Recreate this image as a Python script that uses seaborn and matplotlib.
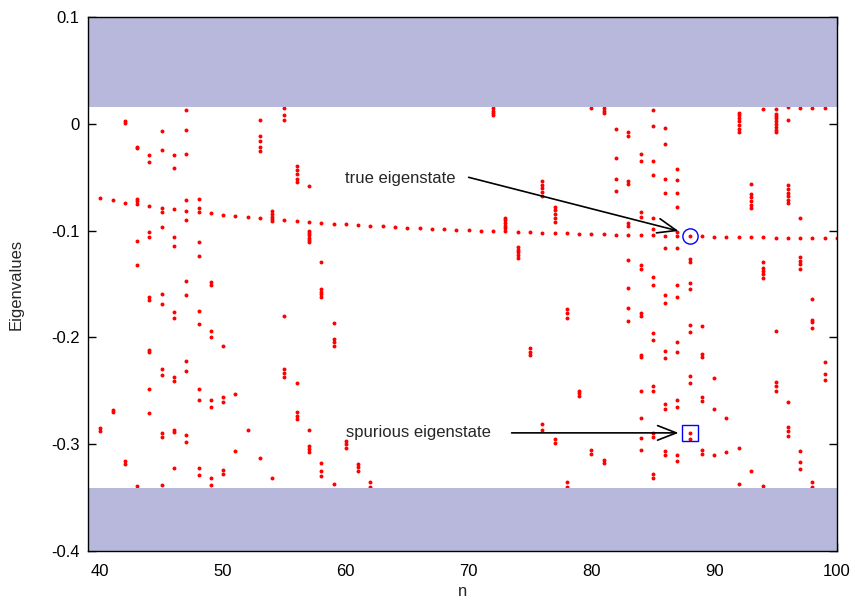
import matplotlib
matplotlib.use('Agg')
import matplotlib.pyplot as plt
import seaborn as sns
import pandas as pd

# "true" eigenvalue branch, one point per n
main_n = list(range(40, 101))
main_y = [-0.0695, -0.0714, -0.0738, -0.0754, -0.0773, -0.0787, -0.0801, -0.0815, -0.0826, -0.0838,
          -0.0850, -0.0864, -0.0873, -0.0885, -0.0894, -0.0904, -0.0913, -0.0920, -0.0929, -0.0935,
          -0.0941, -0.0948, -0.0953, -0.0960, -0.0966, -0.0972, -0.0976, -0.0981, -0.0988, -0.0994,
          -0.0997, -0.1000, -0.1004, -0.1007, -0.1013, -0.1016, -0.1019, -0.1022, -0.1025, -0.1028,
          -0.1032, -0.1035, -0.1037, -0.1041, -0.1043, -0.1045, -0.1047, -0.1049, -0.1051, -0.1053,
          -0.1056, -0.1058, -0.1060, -0.1062, -0.1063, -0.1065, -0.1067, -0.1069, -0.1070, -0.1072,
          -0.1073]

# spurious eigenvalues per n
spur_cols = [40, 41, 42, 43, 44, 45, 46, 47, 48, 49,
             50, 51, 52, 53, 54, 55, 56, 57, 58, 59,
             60, 61, 62, 72, 73, 74, 75, 76, 77, 78, 79,
             80, 81, 82, 83, 84, 85, 86, 87, 88, 89,
             90, 91, 92, 93, 94, 95, 96, 97, 98, 99]
spur_vals = [
    [-0.285, -0.288],
    [-0.2677, -0.270],
    [0.0025, 0.0005, -0.3156, -0.319],
    [-0.0215, -0.023, -0.0705, -0.0726, -0.1097, -0.1318, -0.3393],
    [-0.0293, -0.0362, -0.1013, -0.1056, -0.162, -0.165, -0.2119, -0.214, -0.2486, -0.2705],
    [-0.0065, -0.025, -0.083, -0.0966, -0.159, -0.1686, -0.2296, -0.2355, -0.2894, -0.2935, -0.3378],
    [-0.029, -0.0411, -0.106, -0.1144, -0.1766, -0.1822, -0.2374, -0.2408, -0.2864, -0.2882, -0.3221],
    [0.0127, -0.006, -0.0284, -0.0714, -0.090, -0.147, -0.1607, -0.2224, -0.2318, -0.2916, -0.2979],
    [-0.0705, -0.0785, -0.1107, -0.124, -0.1751, -0.1876, -0.2486, -0.2589, -0.3221, -0.3293],
    [-0.1483, -0.1508, -0.1941, -0.200, -0.2589, -0.2654, -0.3318, -0.3378],
    [-0.2084, -0.2561, -0.2602, -0.324, -0.3278],
    [-0.2533, -0.306],
    [-0.2869],
    [0.0031, -0.0112, -0.0159, -0.0215, -0.0256, -0.3128],
    [-0.0813, -0.0845, -0.0873, -0.0906, -0.3318],
    [0.0146, 0.0084, 0.0037, -0.180, -0.2296, -0.2336, -0.2374],
    [-0.0393, -0.0434, -0.0474, -0.0514, -0.0549, -0.2427, -0.270, -0.2736, -0.2763],
    [-0.0586, -0.1004, -0.1025, -0.1044, -0.1065, -0.1088, -0.111, -0.2869, -0.3013, -0.3044, -0.3075],
    [-0.129, -0.1549, -0.1574, -0.1598, -0.1623, -0.3175, -0.3247, -0.330],
    [-0.1864, -0.2016, -0.2041, -0.2078, -0.3374],
    [-0.2966, -0.300, -0.3035],
    [-0.319, -0.3213, -0.325],
    [-0.335, -0.3399],
    [0.0152, 0.0124, 0.0103, 0.0084],
    [-0.088, -0.0905, -0.093, -0.0955, -0.098],
    [-0.1155, -0.118, -0.1205, -0.123, -0.126],
    [-0.2103, -0.2135, -0.2166],
    [-0.0535, -0.057, -0.0605, -0.064, -0.068, -0.2813, -0.2864],
    [-0.078, -0.081, -0.0845, -0.088, -0.0916, -0.295, -0.299],
    [-0.1736, -0.1775, -0.1817, -0.3355, -0.340],
    [-0.250, -0.2524, -0.2552],
    [0.015, -0.3056, -0.3088],
    [0.015, 0.0116, 0.0097, -0.3144, -0.3175],
    [-0.0053, -0.0321, -0.0514, -0.063],
    [-0.0075, -0.011, -0.054, -0.0567, -0.0932, -0.0957, -0.1278, -0.1539, -0.1729, -0.1845],
    [-0.0287, -0.0346, -0.0822, -0.0869, -0.1321, -0.1359, -0.1773, -0.1804, -0.2168, -0.2187,
     -0.250, -0.2757, -0.2941, -0.3053],
    [0.0131, -0.0016, -0.0346, -0.0477, -0.0882, -0.0988, -0.143, -0.1514, -0.1963, -0.2022,
     -0.2455, -0.250, -0.2897, -0.2935, -0.328, -0.3312],
    [-0.0035, -0.019, -0.0518, -0.0651, -0.1163, -0.1602, -0.1682, -0.2131, -0.2193, -0.2623,
     -0.2667, -0.3065, -0.3097],
    [-0.0427, -0.0527, -0.0651, -0.0776, -0.1013, -0.1159, -0.1511, -0.1626, -0.2041, -0.2137,
     -0.2583, -0.2654, -0.3103, -0.3159],
    [-0.1262, -0.129, -0.1495, -0.1551, -0.1882, -0.195, -0.2364, -0.243, -0.2892, -0.2948],
    [-0.1891, -0.2156, -0.2181, -0.2561, -0.2592, -0.3056, -0.3088],
    [-0.2377, -0.2673, -0.310],
    [-0.2754, -0.3069],
    [0.0103, 0.008, 0.0056, 0.0025, -0.0015, -0.005, -0.0075, -0.3037, -0.3368],
    [-0.0561, -0.0655, -0.069, -0.0725, -0.076, -0.0785, -0.325],
    [0.0143, -0.1296, -0.1346, -0.1375, -0.1405, -0.144, -0.3396],
    [0.0143, 0.0093, 0.0075, 0.0056, 0.003, 0.0, -0.003, -0.0055, -0.0075, -0.1938, -0.242,
     -0.2455, -0.2499],
    [0.016, 0.0037, -0.0577, -0.061, -0.0645, -0.068, -0.0715, -0.0745, -0.2602, -0.2841,
     -0.288, -0.292],
    [0.015, -0.0885, -0.1247, -0.128, -0.131, -0.1362, -0.306, -0.3168, -0.323],
    [0.015, -0.1636, -0.1835, -0.186, -0.1916, -0.335, -0.340],
    [0.015, -0.2234, -0.2343, -0.2396],
]

band_top = (0.0158, 0.1)
band_bottom = (-0.4, -0.341)

x_ticks = [40, 50, 60, 70, 80, 90, 100]
y_ticks = [0.1, 0.0, -0.1, -0.2, -0.3, -0.4]
y_tick_labels = ['0.1', '0', '-0.1', '-0.2', '-0.3', '-0.4']

true_n, true_y = 88, main_y[48]
spur_n, spur_y = 88, -0.2892

sns.set_style('ticks')
plt.rcParams['font.family'] = ['Liberation Sans', 'DejaVu Sans']

fig = plt.figure(figsize=(8.55, 6), dpi=100)
ax = fig.add_axes([88 / 855, 1 - 551 / 600, (837 - 88) / 855, (551 - 17) / 600])

rows = [(n, v) for n, vals in zip(spur_cols, spur_vals) for v in vals]
rows += list(zip(main_n, main_y))
df = pd.DataFrame(rows, columns=['n', 'E'])
sns.scatterplot(data=df, x='n', y='E', color='#ff0000', s=8, linewidth=0, ax=ax, zorder=2)

ax.axhspan(*band_top, color='#b8b8dc', lw=0, zorder=3)
ax.axhspan(*band_bottom, color='#b8b8dc', lw=0, zorder=3)

ax.plot([true_n], [true_y], marker='o', mfc='none', mec='blue', ms=11, mew=1.0, zorder=4)
ax.plot([spur_n], [spur_y], marker='s', mfc='none', mec='blue', ms=11, mew=1.0, zorder=4)

arrow = dict(arrowstyle='->,head_length=0.9,head_width=0.35', color='black', lw=1.2,
             mutation_scale=15, shrinkA=0, shrinkB=0)
ax.annotate('', xy=(87.1, -0.1004), xytext=(70.0, -0.0501), arrowprops=arrow, zorder=5)
ax.text(59.9, -0.0511, 'true eigenstate', ha='left', va='center', fontsize=12)
ax.annotate('', xy=(87.1, -0.2894), xytext=(73.5, -0.2894), arrowprops=arrow, zorder=5)
ax.text(60.0, -0.2888, 'spurious eigenstate', ha='left', va='center', fontsize=12)

ax.set_xlim(39, 100)
ax.set_ylim(-0.4, 0.1)
ax.set_xticks(x_ticks)
ax.set_xticklabels([str(t) for t in x_ticks])
ax.set_yticks(y_ticks)
ax.set_yticklabels(y_tick_labels)
ax.tick_params(direction='in', length=6, width=1, top=True, right=True, labelsize=12,
               colors='black')
ax.tick_params(axis='x', pad=9)
ax.tick_params(axis='y', pad=6)
for sp in ax.spines.values():
    sp.set_visible(True)
    sp.set_linewidth(1.0)
    sp.set_color('black')
    sp.set_zorder(6)
ax.set_xlabel('n', fontsize=12, labelpad=4)
ax.set_ylabel('Eigenvalues', fontsize=12, labelpad=20)

fig.savefig('out.png', dpi=100)
